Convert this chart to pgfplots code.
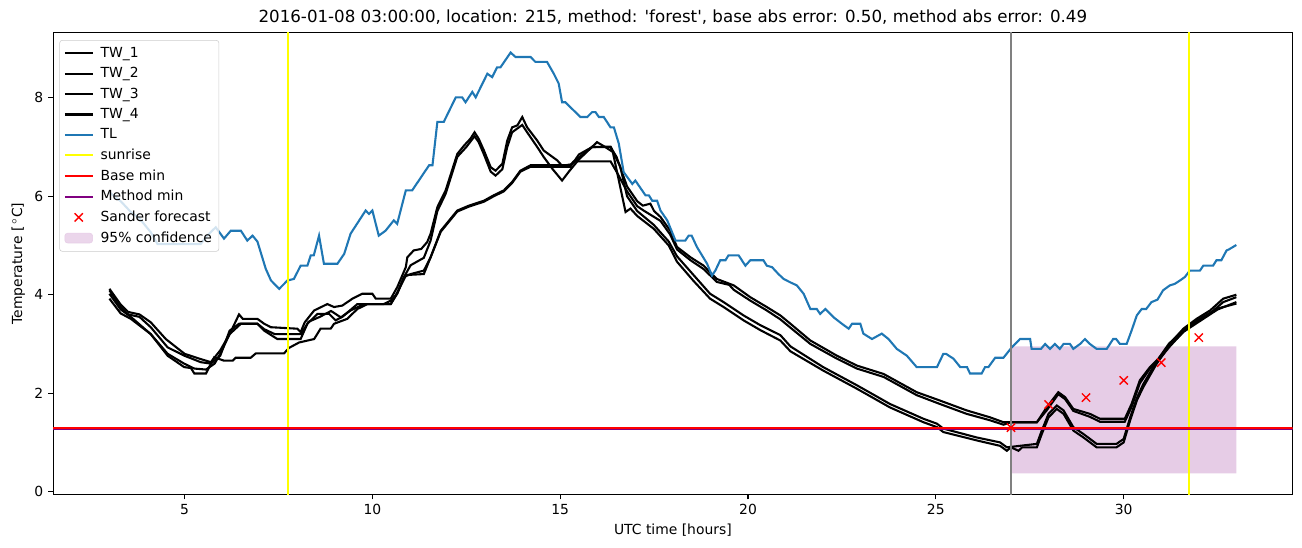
\documentclass[border=0pt]{standalone}
\usepackage{fontspec}
\setmainfont{DejaVu Sans}[Ligatures=TeXOff]
\usepackage{pgfplots}
\pgfplotsset{compat=1.18}
\usetikzlibrary{calc}
\definecolor{tlblue}{HTML}{1F77B4}
\definecolor{mpurple}{RGB}{128,0,128}
\definecolor{confcol}{RGB}{230,204,230}
\definecolor{sunyellow}{RGB}{255,255,0}
\definecolor{vgray}{RGB}{128,128,128}

\begin{document}
\begin{tikzpicture}
\begin{axis}[
    name=ax,
    scale only axis,
    width=892pt, height=332.6pt,
    xmin=1.5, xmax=34.5,
    ymin=-0.06, ymax=9.33,
    xtick={5,10,...,30},
    ytick={0,2,...,8},
    tick align=outside,
    tick pos=left,
    major tick length=3.5pt,
    tick style={black, line width=0.8pt},
    axis line style={line width=0.8pt},
    /pgf/number format/assume math mode=true,
    tick label style={font=\fontsize{10}{12}\selectfont},
    label style={font=\fontsize{10}{12}\selectfont},
    xlabel={UTC time [hours]},
    ylabel={Temperature [$\,^\circ$C]},
    title={2016-01-08 03:00:00, location: 215, method: 'forest', base abs error: 0.50, method abs error: 0.49},
    title style={font=\fontsize{12}{14}\selectfont, yshift=-4pt},
    legend image code/.code={\draw[mark repeat=2, mark phase=2, #1]
        plot coordinates {(0pt,0pt) (10pt,0pt) (20pt,0pt)};},
    legend style={at={(0,1)}, anchor=north west, xshift=4.5pt, yshift=-5.5pt,
        draw=black!20, rounded corners=2pt, fill=white, fill opacity=0.8, text opacity=1,
        font=\fontsize{10}{12}\selectfont, row sep=1.8pt, column sep=3pt, inner sep=3pt},
    legend cell align=left,
]
% confidence band (drawn first, below the lines)
\addplot[fill=confcol, draw=none, forget plot] coordinates {
    (27,0.37) (33,0.37) (33,2.95) (27,2.95) (27,0.37)};

% TW_1
\addplot[black, line width=1.5pt] coordinates {
(3.0,4.12)(3.3,3.8)(3.5,3.65)(3.8,3.6)(4.1,3.44)(4.5,3.1)(5.0,2.8)(5.4,2.7)(5.7,2.63)(5.95,2.87)
(6.2,3.2)(6.45,3.6)(6.55,3.51)(6.94,3.51)(7.12,3.41)(7.3,3.34)(8.0,3.31)(8.09,3.24)(8.2,3.44)(8.45,3.68)
(8.8,3.81)(8.98,3.75)(9.2,3.78)(9.47,3.92)(9.73,4.02)(10.0,4.02)(10.09,3.92)(10.49,3.92)(10.66,4.15)(10.89,4.56)
(10.93,4.76)(11.1,4.90)(11.3,4.93)(11.46,5.07)(11.55,5.24)(11.73,5.78)(11.95,6.12)(12.26,6.86)(12.44,7.03)(12.61,7.17)
(12.72,7.30)(12.83,7.17)(12.97,6.93)(13.15,6.59)(13.28,6.52)(13.46,6.66)(13.59,7.13)(13.72,7.40)(13.86,7.44)(13.99,7.61)
(14.12,7.40)(14.39,7.13)(14.56,6.93)(14.92,6.73)(15.05,6.62)(15.3,6.65)(15.6,6.85)(15.85,7.0)(16.34,7.0)(16.5,6.8)
(16.78,6.2)(17.05,5.9)(17.2,5.81)(17.4,5.85)(17.5,5.7)(17.67,5.58)(17.93,5.30)(18.11,4.97)(18.47,4.76)(18.82,4.59)
(19.17,4.32)(19.62,4.19)(20.06,3.95)(20.5,3.75)(20.86,3.58)(21.13,3.41)(21.66,3.07)(22.37,2.76)(22.9,2.56)(23.61,2.39)
(24.49,2.02)(25.11,1.85)(25.82,1.65)(26.44,1.51)(26.8,1.41)(27.69,1.41)(27.95,1.71)(28.26,2.02)(28.44,1.92)(28.66,1.68)
(29.1,1.58)(29.37,1.48)(30.03,1.48)(30.21,1.78)(30.43,2.26)(30.7,2.53)(30.96,2.73)(31.23,3.0)(31.59,3.31)(31.94,3.51)
(32.3,3.68)(32.65,3.92)(33.0,4.0)};
\addlegendentry{TW\_1}
% TW_2
\addplot[black, line width=1.5pt] coordinates {
(3.0,4.09)(3.3,3.75)(3.5,3.6)(3.8,3.55)(4.1,3.34)(4.55,2.93)(5.0,2.76)(5.43,2.63)(5.7,2.6)(5.95,2.76)
(6.2,3.27)(6.45,3.41)(6.94,3.41)(7.12,3.27)(7.47,3.10)(8.09,3.10)(8.27,3.41)(8.54,3.61)(8.85,3.61)(9.02,3.48)
(9.2,3.55)(9.6,3.81)(10.3,3.81)(10.49,3.88)(10.66,4.02)(10.84,4.36)(11.02,4.6)(11.37,4.75)(11.55,5.1)(11.73,5.7)
(11.95,6.05)(12.26,6.8)(12.5,7.0)(12.72,7.22)(12.83,7.1)(12.97,6.85)(13.15,6.5)(13.28,6.42)(13.46,6.55)(13.59,7.0)
(13.72,7.3)(13.99,7.45)(14.12,7.3)(14.39,7.0)(14.56,6.8)(14.8,6.55)(15.05,6.32)(15.23,6.5)(15.5,6.75)(15.98,7.10)
(16.2,7.0)(16.4,6.9)(16.74,5.68)(16.87,5.75)(17.05,5.6)(17.49,5.34)(17.89,5.0)(18.11,4.67)(18.55,4.28)(18.99,3.92)
(19.35,3.75)(19.88,3.48)(20.33,3.28)(20.86,3.07)(21.13,2.85)(22.0,2.46)(22.9,2.09)(23.78,1.71)(24.67,1.41)(25.03,1.31)
(25.2,1.21)(26.09,1.04)(26.71,0.93)(26.89,0.83)(27.0,0.9)(27.2,0.83)(27.3,0.9)(27.69,0.9)(27.82,1.17)(28.0,1.51)
(28.22,1.68)(28.4,1.58)(28.66,1.24)(28.93,1.10)(29.28,0.90)(29.81,0.90)(30.0,1.0)(30.17,1.44)(30.35,1.85)(30.52,2.12)
(30.88,2.60)(31.2,2.95)(31.6,3.25)(32.0,3.45)(32.5,3.7)(33.0,3.85)};
\addlegendentry{TW\_2}
% TW_3
\addplot[black, line width=1.5pt] coordinates {
(3.0,4.02)(3.3,3.7)(3.57,3.55)(4.1,3.2)(4.55,2.80)(4.99,2.60)(5.26,2.50)(5.57,2.48)(5.8,2.6)(5.95,2.8)
(6.2,3.2)(6.5,3.41)(6.94,3.41)(7.12,3.3)(7.4,3.2)(8.1,3.2)(8.3,3.45)(8.6,3.55)(8.9,3.67)(9.16,3.54)
(9.42,3.68)(9.78,3.81)(10.49,3.81)(10.66,4.02)(10.84,4.36)(11.02,4.42)(11.37,4.49)(11.55,4.76)(11.82,5.30)(12.26,5.71)
(12.57,5.81)(12.97,5.91)(13.23,6.02)(13.5,6.12)(13.72,6.29)(13.94,6.52)(14.21,6.63)(15.27,6.63)(15.36,6.71)(16.34,6.71)
(16.5,6.5)(16.78,6.1)(17.05,5.8)(17.2,5.72)(17.67,5.5)(17.93,5.22)(18.11,4.92)(18.47,4.7)(18.82,4.52)(19.17,4.26)
(19.5,4.2)(19.62,4.1)(20.06,3.88)(20.5,3.68)(20.86,3.5)(21.13,3.33)(21.66,3.0)(22.37,2.70)(22.9,2.5)(23.61,2.33)
(24.49,1.96)(25.11,1.78)(25.82,1.58)(26.44,1.45)(26.8,1.36)(27.0,1.41)(27.69,1.41)(27.95,1.65)(28.26,1.98)(28.44,1.88)
(28.66,1.64)(29.1,1.52)(29.37,1.42)(30.03,1.42)(30.21,1.72)(30.43,2.2)(30.7,2.5)(30.96,2.7)(31.23,2.95)(31.59,3.25)
(31.94,3.45)(32.3,3.62)(32.65,3.85)(33.0,3.95)};
\addlegendentry{TW\_3}
% TW_4
\addplot[black, line width=1.5pt] coordinates {
(3.0,3.92)(3.3,3.62)(3.57,3.51)(4.1,3.20)(4.55,2.76)(4.99,2.53)(5.17,2.51)(5.26,2.40)(5.57,2.40)(5.79,2.73)
(6.05,2.66)(6.28,2.66)(6.36,2.72)(6.76,2.72)(6.90,2.81)(7.65,2.81)(7.78,2.92)(8.05,3.03)(8.45,3.10)(8.62,3.31)
(8.89,3.31)(8.98,3.41)(9.33,3.51)(9.6,3.71)(9.87,3.81)(10.49,3.81)(10.7,4.1)(10.9,4.4)(11.37,4.42)(11.55,4.76)
(11.82,5.28)(12.26,5.69)(12.57,5.79)(12.97,5.89)(13.23,6.0)(13.5,6.1)(13.72,6.27)(13.94,6.5)(14.21,6.6)(15.27,6.6)
(15.5,6.85)(15.85,7.0)(16.34,7.01)(16.6,6.6)(16.78,6.0)(17.05,5.7)(17.49,5.42)(17.89,5.08)(18.11,4.78)(18.55,4.4)
(18.99,4.02)(19.35,3.85)(19.88,3.58)(20.33,3.38)(20.86,3.18)(21.13,2.95)(22.0,2.53)(22.9,2.16)(23.78,1.78)(24.67,1.48)
(25.03,1.38)(25.2,1.28)(26.09,1.1)(26.71,1.0)(26.89,0.9)(27.69,0.97)(27.82,1.24)(28.0,1.58)(28.22,1.75)(28.4,1.65)
(28.66,1.31)(28.93,1.17)(29.28,0.97)(29.81,0.97)(30.0,1.07)(30.17,1.5)(30.35,1.9)(30.52,2.18)(30.88,2.65)(31.2,3.0)
(31.6,3.3)(32.0,3.5)(32.5,3.72)(33.0,3.82)};
\addlegendentry{TW\_4}
% TL
\addplot[tlblue, line width=1.5pt] coordinates {
(3.0,6.08)(3.3,5.9)(3.57,5.68)(3.8,5.55)(4.1,5.27)(4.28,5.03)(5.43,5.03)(5.6,5.2)(5.83,5.37)(6.05,5.14)
(6.23,5.30)(6.50,5.30)(6.67,5.10)(6.81,5.20)(6.94,5.08)(7.16,4.53)(7.30,4.29)(7.52,4.12)(7.74,4.29)(7.91,4.32)
(8.09,4.59)(8.27,4.59)(8.36,4.80)(8.44,4.80)(8.58,5.20)(8.71,4.63)(9.07,4.63)(9.25,4.83)(9.42,5.24)(9.82,5.71)
(9.91,5.64)(10.0,5.71)(10.17,5.20)(10.35,5.30)(10.57,5.51)(10.66,5.44)(10.89,6.12)(11.06,6.12)(11.51,6.63)(11.6,6.63)
(11.73,7.51)(11.90,7.51)(12.22,8.01)(12.39,8.01)(12.48,7.91)(12.66,8.12)(12.75,8.01)(13.06,8.49)(13.19,8.42)(13.32,8.62)
(13.41,8.62)(13.68,8.92)(13.81,8.83)(14.21,8.83)(14.34,8.73)(14.65,8.73)(14.83,8.49)(14.96,8.29)(15.05,7.91)(15.14,7.91)
(15.27,7.81)(15.54,7.61)(15.72,7.61)(15.85,7.71)(15.94,7.71)(16.03,7.61)(16.16,7.61)(16.34,7.40)(16.43,7.40)(16.56,7.07)
(16.69,6.49)(16.92,6.25)(17.0,6.32)(17.27,6.02)(17.36,6.02)(17.45,5.91)(17.58,5.91)(17.67,5.71)(17.85,5.51)(18.07,5.10)
(18.33,5.10)(18.42,5.20)(18.5,5.20)(18.64,4.97)(18.91,4.63)(19.04,4.39)(19.13,4.49)(19.26,4.70)(19.40,4.70)(19.48,4.80)
(19.75,4.80)(19.93,4.59)(20.06,4.70)(20.41,4.70)(20.5,4.59)(20.64,4.56)(20.81,4.42)(20.95,4.32)(21.13,4.25)(21.30,4.19)
(21.48,4.02)(21.66,3.71)(21.83,3.71)(21.92,3.61)(22.06,3.71)(22.28,3.54)(22.5,3.41)(22.68,3.31)(22.77,3.41)(22.99,3.41)
(23.07,3.21)(23.3,3.10)(23.56,3.21)(23.74,3.10)(23.96,2.90)(24.23,2.76)(24.49,2.53)(25.03,2.53)(25.2,2.80)(25.27,2.80)
(25.47,2.70)(25.65,2.53)(25.83,2.53)(25.91,2.40)(26.22,2.40)(26.31,2.53)(26.4,2.53)(26.58,2.72)(26.8,2.72)(27.02,2.93)
(27.24,3.10)(27.51,3.10)(27.55,2.90)(27.8,2.90)(27.91,3.0)(28.04,2.90)(28.17,3.0)(28.3,2.9)(28.4,3.0)(28.57,3.0)
(28.66,2.90)(28.84,3.0)(28.97,3.10)(29.1,3.0)(29.28,2.90)(29.55,2.90)(29.72,3.10)(29.8,3.10)(29.9,3.0)(30.08,3.0)
(30.21,3.27)(30.35,3.58)(30.48,3.71)(30.6,3.71)(30.74,3.85)(30.9,3.9)(31.05,4.09)(31.23,4.19)(31.36,4.22)(31.5,4.29)
(31.63,4.36)(31.76,4.49)(32.03,4.49)(32.12,4.59)(32.38,4.59)(32.47,4.70)(32.6,4.70)(32.74,4.90)(32.8,4.92)(33.0,5.01)};
\addlegendentry{TL}
% sunrise
\addplot[sunyellow, line width=1.5pt] coordinates {(7.75,-0.06) (7.75,9.33)};
\addlegendentry{sunrise}
\addplot[sunyellow, line width=1.5pt, forget plot] coordinates {(31.75,-0.06) (31.75,9.33)};
% forecast time
\addplot[vgray, line width=1.5pt, forget plot] coordinates {(27,-0.06) (27,9.33)};
% minima: method min sits just below base min, red stays on top
\addplot[mpurple, line width=1.5pt, forget plot] coordinates {(1.5,1.275) (34.5,1.275)};
\addplot[red, line width=1.5pt] coordinates {(1.5,1.30) (34.5,1.30)};
\addlegendentry{Base min}
\addlegendimage{mpurple, line width=1.5pt}
\addlegendentry{Method min}
\addplot[red, only marks, mark=x, mark size=4.2pt, line width=1pt] coordinates {
    (27,1.30) (28,1.77) (29,1.91) (30,2.26) (31,2.62) (32,3.13)};
\addlegendentry{Sander forecast}
\addlegendimage{legend image code/.code={\fill[confcol] (0pt,-3.5pt) rectangle (20pt,3.5pt);}}
\addlegendentry{95\% confidence}
\end{axis}
\pgfresetboundingbox
\path[use as bounding box] ($(ax.south west)+(-38.2pt,-37.9pt)$) rectangle ($(ax.north east)+(6.7pt,23.3pt)$);
\end{tikzpicture}
\end{document}
